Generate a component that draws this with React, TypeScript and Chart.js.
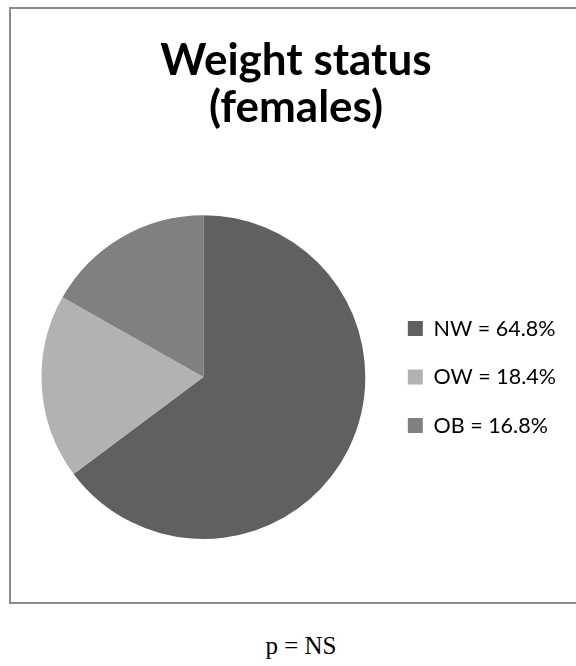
import React, { useEffect, useRef } from "react";
import { Chart, registerables } from "chart.js";

Chart.register(...registerables);

const categories = ["NW", "OW", "OB"];
const values = [64.8, 18.4, 16.8];
const colors = ["#606060", "#b2b2b2", "#808080"];
const titleLines = ["Weight status", "(females)"];
const footnote = "p = NS";

export default function App() {
  const ref = useRef<HTMLCanvasElement | null>(null);

  useEffect(() => {
    document.body.style.margin = "0";
    if (!ref.current) return;
    const chart = new Chart(ref.current, {
      type: "pie",
      data: {
        labels: categories.map((c, i) => `${c} = ${values[i].toFixed(1)}%`),
        datasets: [
          {
            data: values,
            backgroundColor: colors,
            borderWidth: 0,
          },
        ],
      },
      options: {
        responsive: false,
        animation: false,
        layout: { padding: { left: 15, right: 0, top: 0, bottom: 63 } },
        plugins: {
          title: {
            display: true,
            text: titleLines,
            color: "#000",
            font: { family: "Lato", weight: "bold", size: 44, lineHeight: 1.07 },
            padding: { top: 28, bottom: 84 },
          },
          legend: {
            position: "right",
            align: "center",
            fullSize: false,
            labels: {
              boxWidth: 15,
              boxHeight: 15,
              padding: 27,
              color: "#000",
              font: { family: "Lato", size: 21.5 },
            },
          },
          tooltip: { enabled: false },
        },
      },
    });
    return () => chart.destroy();
  }, []);

  return (
    <div style={{ position: "relative", width: 576, height: 666, overflow: "hidden", background: "#fff" }}>
      <div
        style={{
          position: "absolute",
          left: 9,
          top: 7,
          width: 620,
          height: 593,
          border: "2px solid #8c8c8c",
        }}
      />
      <canvas
        ref={ref}
        width={555}
        height={593}
        style={{ position: "absolute", left: 11, top: 9, width: 555, height: 593 }}
      />
      <div
        style={{
          position: "absolute",
          left: 0,
          width: 602,
          top: 632,
          textAlign: "center",
          fontFamily: "'Liberation Serif', 'Times New Roman', serif",
          fontSize: 25,
          color: "#000",
        }}
      >
        {footnote}
      </div>
    </div>
  );
}
